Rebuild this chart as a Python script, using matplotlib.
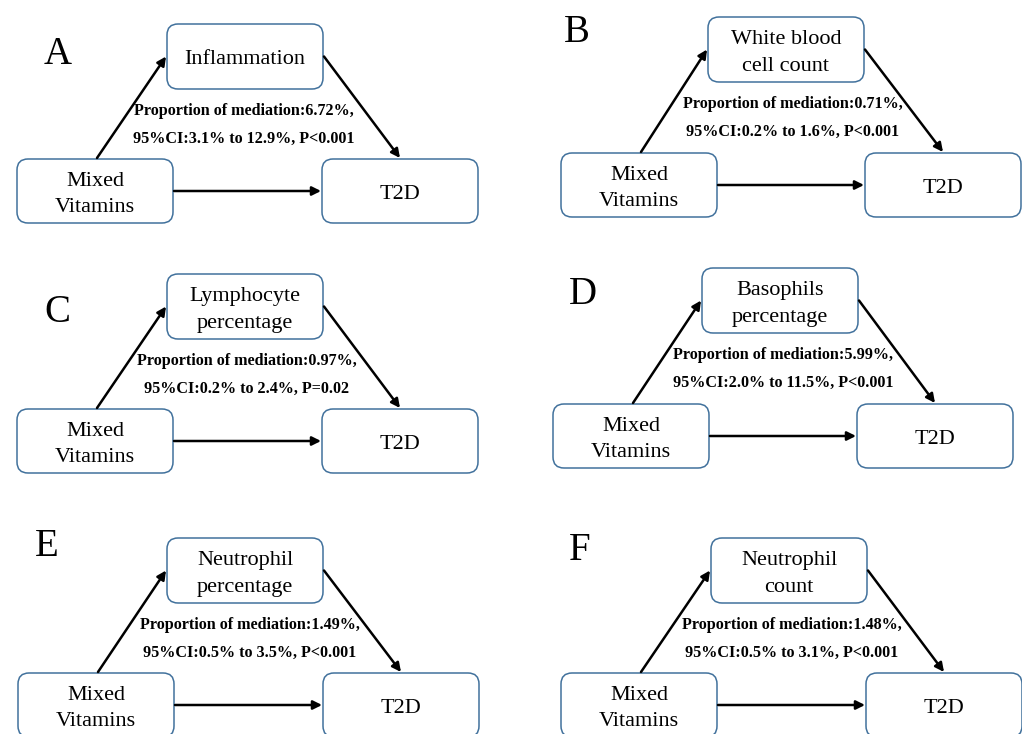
import matplotlib
matplotlib.use("Agg")
import matplotlib.pyplot as plt
from matplotlib.patches import FancyBboxPatch

# ---- data -------------------------------------------------------------
panel_letters = ["A", "B", "C", "D", "E", "F"]
mediators = [
    "Inflammation",
    "White blood\ncell count",
    "Lymphocyte\npercentage",
    "Basophils\npercentage",
    "Neutrophil\npercentage",
    "Neutrophil\ncount",
]
exposure = "Mixed\nVitamins"
outcome = "T2D"
prop_mediated = ["6.72", "0.71", "0.97", "5.99", "1.49", "1.48"]
ci_low = ["3.1", "0.2", "0.2", "2.0", "0.5", "0.5"]
ci_high = ["12.9", "1.6", "2.4", "11.5", "3.5", "3.1"]
p_text = ["P<0.001", "P<0.001", "P=0.02", "P<0.001", "P<0.001", "P<0.001"]

# ---- layout (pixel coordinates, origin top-left) ----------------------
W, H = 1022, 734
exp_box = [(17, 159), (561, 153), (17, 409), (553, 404), (18, 673), (561, 673)]
med_box = [(167, 24), (708, 17), (167, 274), (702, 268), (167, 538), (711, 538)]
out_box = [(322, 159), (865, 153), (322, 409), (857, 404), (323, 673), (866, 673)]
letter_pos = [(58, 55), (577, 32), (57, 312), (583, 294), (47, 547), (580, 550)]
text_x = [244, 793, 247, 783, 250, 792]
BW, BH = 156, 64
MH = 65

EDGE = "#41719C"
SERIF = ["Liberation Serif", "DejaVu Serif"]

fig = plt.figure(figsize=(W / 100, H / 100), dpi=100)
ax = fig.add_axes([0, 0, 1, 1])
ax.set_xlim(0, W)
ax.set_ylim(H, 0)
ax.axis("off")


def box(x, y, w, h, label):
    ax.add_patch(FancyBboxPatch((x, y), w, h,
                                boxstyle="round,pad=0,rounding_size=11",
                                fc="white", ec=EDGE, lw=1.1, zorder=2))
    ax.text(x + w / 2, y + h / 2 + 3.5, label, ha="center", va="center",
            family=SERIF, fontsize=16, linespacing=1.55, zorder=3)


def arrow(x0, y0, x1, y1):
    ax.annotate("", xy=(x1, y1), xytext=(x0, y0),
                arrowprops=dict(arrowstyle="-|>", color="black", lw=1.8,
                                mutation_scale=13, shrinkA=0, shrinkB=0),
                zorder=4)


for i in range(6):
    ex, ey = exp_box[i]
    mx, my = med_box[i]
    ox, oy = out_box[i]
    box(ex, ey, BW, BH, exposure)
    box(mx, my, BW, MH, mediators[i])
    box(ox, oy, BW, BH, outcome)

    # exposure -> mediator, mediator -> outcome, exposure -> outcome
    arrow(ex + BW / 2 + 2, ey - 1, mx - 1, my + MH / 2)
    arrow(mx + BW + 1, my + MH / 2, ox + BW / 2, oy - 1)
    arrow(ex + BW + 1, ey + BH / 2, ox - 1, oy + BH / 2)

    lx, ly = letter_pos[i]
    ax.text(lx, ly, panel_letters[i], ha="center", va="center",
            family=SERIF, fontsize=28)

    ty = my + MH + 22
    ax.text(text_x[i], ty, f"Proportion of mediation:{prop_mediated[i]}%,",
            ha="center", va="center", family=SERIF, fontweight="bold",
            fontsize=11.6, zorder=5)
    ax.text(text_x[i], ty + 28,
            f"95%CI:{ci_low[i]}% to {ci_high[i]}%, {p_text[i]}",
            ha="center", va="center", family=SERIF, fontweight="bold",
            fontsize=11.6, zorder=5)

fig.savefig("out.png", dpi=100, facecolor="white")
